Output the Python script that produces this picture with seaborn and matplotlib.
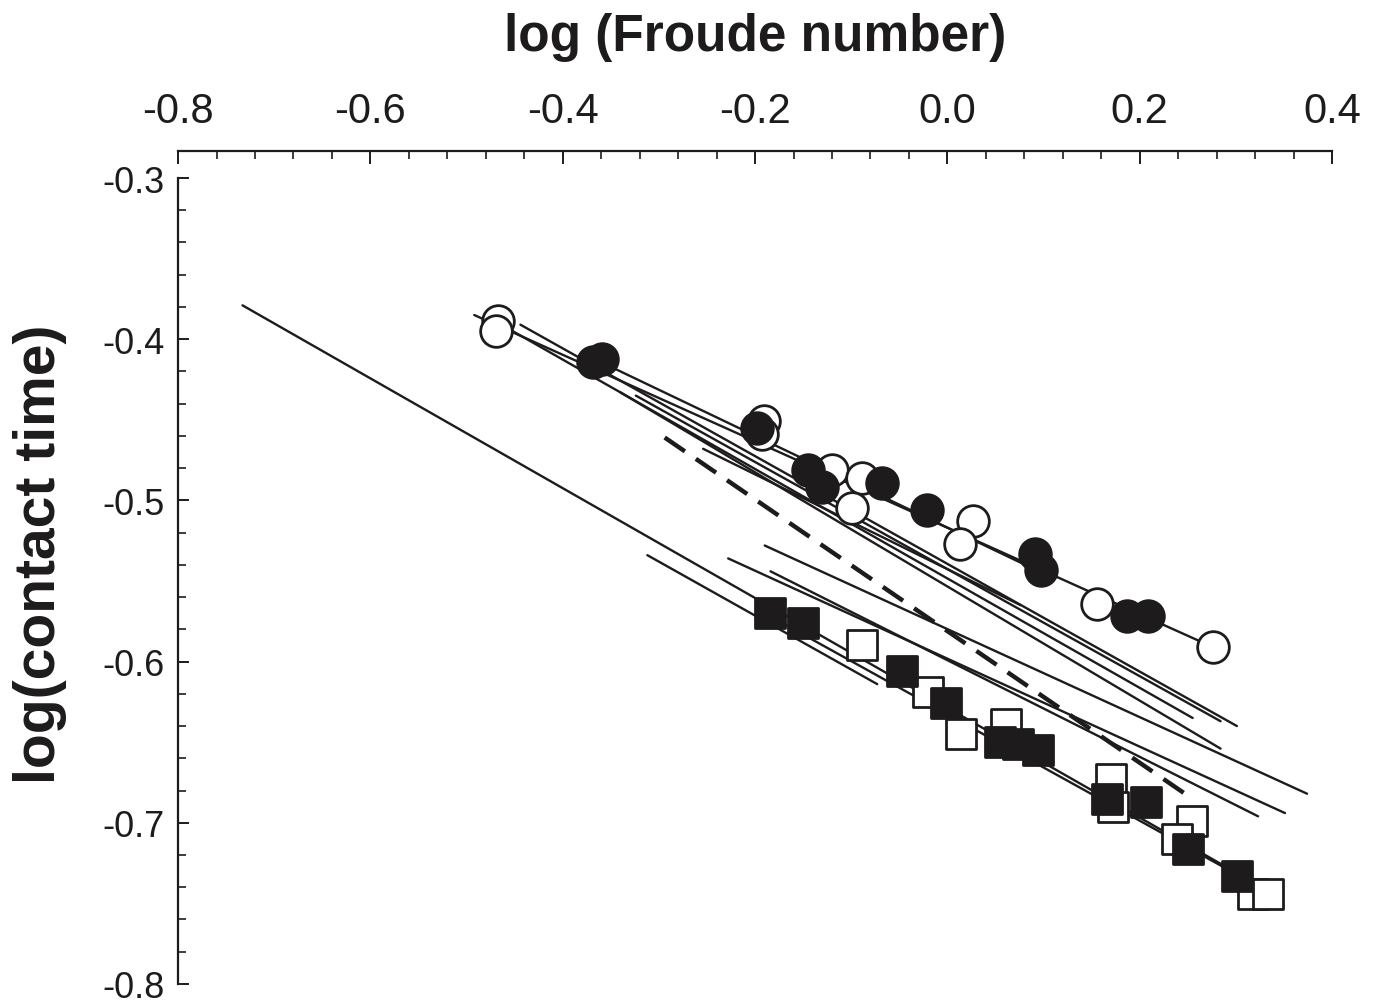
import matplotlib
matplotlib.use('Agg')
import matplotlib.pyplot as plt
from matplotlib.ticker import MultipleLocator, FormatStrFormatter
import numpy as np
import pandas as pd
import seaborn as sns

# marker data (log Froude number, log contact time)
filled_circle_x = [-0.369, -0.359, -0.198, -0.145, -0.130, -0.068, -0.021, 0.091, 0.097, 0.187, 0.209]
filled_circle_y = [-0.414, -0.412, -0.455, -0.481, -0.492, -0.489, -0.506, -0.533, -0.543, -0.572, -0.572]

open_circle_x = [-0.467, -0.469, -0.191, -0.193, -0.120, -0.089, -0.099, 0.027, 0.013, 0.156, 0.276]
open_circle_y = [-0.389, -0.395, -0.451, -0.459, -0.481, -0.486, -0.505, -0.513, -0.527, -0.564, -0.591]

filled_square_x = [-0.184, -0.150, -0.047, -0.001, 0.055, 0.073, 0.094, 0.166, 0.207, 0.250, 0.301]
filled_square_y = [-0.570, -0.576, -0.606, -0.626, -0.650, -0.651, -0.655, -0.685, -0.687, -0.716, -0.733]

open_square_x = [-0.089, -0.020, 0.014, 0.061, 0.170, 0.172, 0.254, 0.239, 0.318, 0.333]
open_square_y = [-0.590, -0.619, -0.645, -0.639, -0.673, -0.690, -0.699, -0.710, -0.744, -0.744]

# regression lines: start / end points
line_x0 = [-0.492, -0.361, -0.452, -0.444, -0.324, -0.340, -0.254, -0.190, -0.228, -0.184, -0.733, -0.312, -0.184]
line_y0 = [-0.385, -0.414, -0.395, -0.391, -0.435, -0.433, -0.468, -0.528, -0.536, -0.544, -0.379, -0.534, -0.572]
line_x1 = [0.276, 0.102, 0.255, 0.301, 0.284, 0.284, 0.076, 0.374, 0.351, 0.323, 0.315, -0.073, 0.331]
line_y1 = [-0.591, -0.546, -0.635, -0.640, -0.637, -0.654, -0.565, -0.682, -0.694, -0.696, -0.736, -0.614, -0.742]

# the dashed line
dash_x = [-0.294, 0.247]
dash_y = [-0.461, -0.682]

ink = '#1e1b1c'

sns.set_style('ticks')
plt.rcParams['font.family'] = ['Liberation Sans', 'DejaVu Sans']
plt.rcParams['axes.unicode_minus'] = False

fig = plt.figure(figsize=(13.75, 10.04), dpi=100)
ax = fig.add_axes([0.1295, 0.0190, 0.8393, 0.8027])

rows = []
for i in range(len(line_x0)):
    rows.append([i, line_x0[i], line_y0[i]])
    rows.append([i, line_x1[i], line_y1[i]])
lines = pd.DataFrame(rows, columns=['line', 'x', 'y'])
sns.lineplot(data=lines, x='x', y='y', units='line', estimator=None, sort=False,
             color=ink, linewidth=1.7, ax=ax, zorder=2)

dash = pd.DataFrame({'x': dash_x, 'y': dash_y})
sns.lineplot(data=dash, x='x', y='y', color=ink, linewidth=3.2, ax=ax, zorder=2,
             dashes=False, linestyle=(0, (5.5, 3)))

open_sq = pd.DataFrame({'x': open_square_x, 'y': open_square_y})
filled_sq = pd.DataFrame({'x': filled_square_x, 'y': filled_square_y})
open_c = pd.DataFrame({'x': open_circle_x, 'y': open_circle_y})
filled_c = pd.DataFrame({'x': filled_circle_x, 'y': filled_circle_y})

sns.scatterplot(data=open_sq, x='x', y='y', marker='s', s=470, color='white',
                edgecolor=ink, linewidth=2.0, ax=ax, zorder=3)
sns.scatterplot(data=filled_sq, x='x', y='y', marker='s', s=470, color=ink,
                edgecolor=ink, linewidth=2.0, ax=ax, zorder=4)
sns.scatterplot(data=open_c, x='x', y='y', marker='o', s=520, color='white',
                edgecolor=ink, linewidth=2.0, ax=ax, zorder=3)
sns.scatterplot(data=filled_c, x='x', y='y', marker='o', s=520, color=ink,
                edgecolor=ink, linewidth=2.0, ax=ax, zorder=4)

ax.set_xlim(-0.8, 0.4)
ax.set_ylim(-0.8, -0.3)

ax.xaxis.tick_top()
ax.xaxis.set_label_position('top')
ax.spines['bottom'].set_visible(False)
ax.spines['right'].set_visible(False)
ax.spines['top'].set_position(('outward', 19.5))
for s in ['top', 'left']:
    ax.spines[s].set_linewidth(1.6)
    ax.spines[s].set_color(ink)

ax.xaxis.set_major_locator(MultipleLocator(0.2))
ax.xaxis.set_minor_locator(MultipleLocator(0.04))
ax.yaxis.set_major_locator(MultipleLocator(0.1))
ax.yaxis.set_minor_locator(MultipleLocator(0.02))
ax.xaxis.set_major_formatter(FormatStrFormatter('%.1f'))
ax.yaxis.set_major_formatter(FormatStrFormatter('%.1f'))

ax.tick_params(axis='x', which='major', direction='in', length=9, width=1.4,
               labelsize=30, pad=14, colors=ink, top=True, bottom=False)
ax.tick_params(axis='x', which='minor', direction='in', length=6, width=1.2,
               top=True, bottom=False, colors=ink)
ax.tick_params(axis='y', which='major', direction='in', length=8, width=1.4,
               labelsize=26, pad=10, colors=ink)
ax.tick_params(axis='y', which='minor', direction='in', length=6, width=1.2, colors=ink)

ax.set_xlabel('log (Froude number)', fontsize=37, fontweight='bold', labelpad=30, color=ink)
ax.set_ylabel('log(contact time)', fontsize=41, fontweight='bold', color=ink)
ax.yaxis.set_label_coords(-0.096, 0.535)

fig.savefig('out.png', dpi=100, facecolor='white')
